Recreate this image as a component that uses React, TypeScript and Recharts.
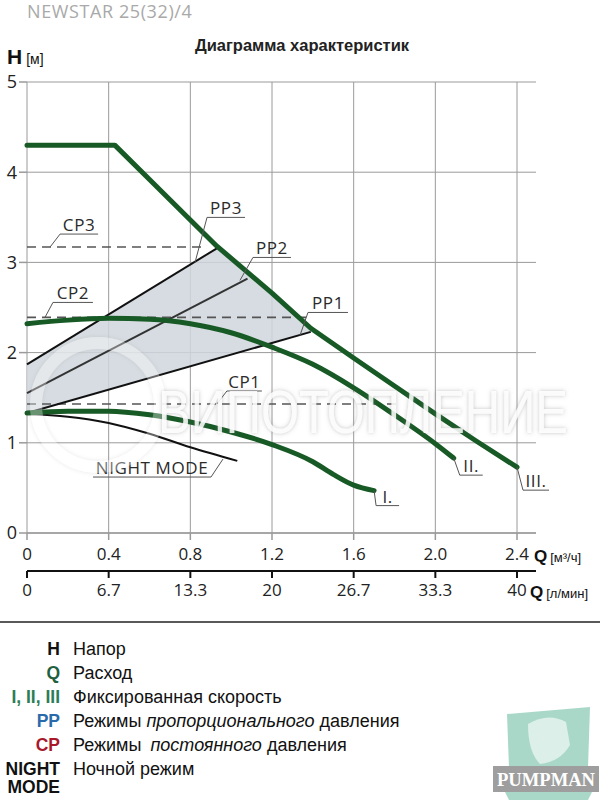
import React from 'react';
import { ComposedChart, Line, Area, Scatter, XAxis, YAxis, CartesianGrid } from 'recharts';

// ---------- data ----------
const qTicks = [0, 0.4, 0.8, 1.2, 1.6, 2.0, 2.4];
const qTickLabels = ['0', '0.4', '0.8', '1.2', '1.6', '2.0', '2.4'];
const lpmTickLabels = ['0', '6.7', '13.3', '20', '26.7', '33.3', '40'];
const hTicks = [0, 1, 2, 3, 4, 5];

// fixed speed curves [Q m3/h, H m]
const speedIII: [number, number][] = [
  [0, 4.3], [0.43, 4.3], [0.6, 3.92], [0.8, 3.47], [0.93, 3.18], [1.2, 2.66],
  [1.39, 2.27], [1.6, 1.94], [1.8, 1.63], [2.0, 1.32], [2.2, 1.02], [2.4, 0.73],
];
const speedII: [number, number][] = [
  [0, 2.32], [0.2, 2.36], [0.4, 2.38], [0.6, 2.37], [0.8, 2.32], [1.0, 2.22],
  [1.2, 2.06], [1.4, 1.87], [1.6, 1.61], [1.8, 1.31], [2.0, 0.99], [2.09, 0.83],
];
const speedI: [number, number][] = [
  [0, 1.33], [0.2, 1.35], [0.4, 1.35], [0.6, 1.31], [0.8, 1.23], [1.0, 1.12],
  [1.2, 0.98], [1.4, 0.79], [1.5, 0.65], [1.6, 0.53], [1.7, 0.47],
];
const nightMode: [number, number][] = [
  [0, 1.32], [0.2, 1.29], [0.4, 1.22], [0.6, 1.1], [0.8, 0.95], [1.03, 0.8],
];
// proportional pressure lines
const pp3: [number, number][] = [[0, 1.87], [0.94, 3.17]];
const pp2: [number, number][] = [[0, 1.55], [1.08, 2.82]];
const pp1: [number, number][] = [[0, 1.33], [1.39, 2.23]];
// constant pressure lines
const cp3: [number, number][] = [[0, 3.17], [0.87, 3.17]];
const cp2: [number, number][] = [[0, 2.39], [1.38, 2.39]];
const cp1: [number, number][] = [[0, 1.43], [1.83, 1.43]];
// shaded PP zone: [Q, low, high]
const ppZone: [number, number, number][] = [
  [0, 1.33, 1.87], [0.94, 1.94, 3.17], [1.0, 1.98, 3.05], [1.2, 2.1, 2.66], [1.39, 2.23, 2.26],
];
// callout anchors: [label, Q, H]
const callouts: [string, number, number][] = [
  ['PP3', 0.823, 3.0], ['PP2', 1.043, 2.8], ['PP1', 1.337, 2.19],
  ['CP3', 0.113, 3.17], ['CP2', 0.088, 2.39], ['CP1', 0.93, 1.43],
  ['NIGHT MODE', 0.96, 0.82], ['I.', 1.7, 0.47], ['II.', 2.09, 0.83], ['III.', 2.4, 0.73],
];
// legend
const legendKeys = ['H', 'Q', 'I, II, III', 'PP', 'CP', 'NIGHT'];
const legendTexts = ['Напор', 'Расход', 'Фиксированная скорость', 'PP', 'CP', 'Ночной режим'];

// ---------- layout / style ----------
const calloutLayout: Record<string, { dx: number; dy: number; ul: number }> = {
  PP3: { dx: 12, dy: -45, ul: 38 },
  PP2: { dx: 13, dy: -23, ul: 38 },
  PP1: { dx: 8, dy: -23, ul: 40 },
  CP3: { dx: 10, dy: -13, ul: 38 },
  CP2: { dx: 8, dy: -15, ul: 40 },
  CP1: { dx: 10, dy: -13, ul: 35 },
  'NIGHT MODE': { dx: -12, dy: 18, ul: -118 },
  'I.': { dx: 2, dy: 15, ul: 23 },
  'II.': { dx: 6, dy: 17, ul: 23 },
  'III.': { dx: 6, dy: 23, ul: 26 },
};
const legendColors = ['#111', '#1f6040', '#2b7d57', '#2a6aab', '#a8182a', '#111'];

const GREEN = '#185a26';
const NUMFONT = '"Open Sans", sans-serif';
const ARIAL = '"Liberation Sans", Arial, sans-serif';
const Q_MAX = 2.493;

const toPts = (arr: [number, number][]) => arr.map(([q, h]) => ({ q, h }));

const Callout = (props: any) => {
  const { cx, cy, payload } = props;
  if (cx == null || cy == null) return null;
  const lay = calloutLayout[payload.label];
  const ex = cx + lay.dx;
  const ey = cy + lay.dy;
  const ux = ex + lay.ul;
  const mid = (ex + ux) / 2;
  return (
    <g>
      <polyline points={`${cx},${cy} ${ex},${ey} ${ux},${ey}`} fill="none" stroke="#555" strokeWidth={1} />
      <text x={mid} y={ey - 3} textAnchor="middle" fontSize={17} fontFamily={NUMFONT}
        letterSpacing={0.6} fill="#2a2a2a">{payload.label}</text>
    </g>
  );
};

export default function App() {
  const zoneData = ppZone.map(([q, lo, hi]) => ({ q, range: [lo, hi] }));
  const calloutData = callouts.map(([label, q, h]) => ({ label, q, h }));
  const lineProps = { dataKey: 'h', dot: false, activeDot: false, isAnimationActive: false } as any;

  return (
    <div style={{ position: 'absolute', left: 0, top: 0, width: 600, height: 800, background: '#fff' }}>
      <ComposedChart width={600} height={800} margin={{ top: 82, right: 64, left: 0, bottom: 189 }}>
        <CartesianGrid stroke="#9a9a9a" strokeWidth={1} verticalValues={qTicks} horizontalValues={hTicks} />
        <XAxis xAxisId={0} type="number" dataKey="q" domain={[0, Q_MAX]} ticks={qTicks}
          allowDataOverflow={false}
          tickFormatter={(v: number) => qTickLabels[qTicks.indexOf(v)] ?? ''}
          height={38} tickSize={7} tickMargin={8} interval={0}
          axisLine={{ stroke: '#9a9a9a', strokeWidth: 1.5 }} tickLine={{ stroke: '#9a9a9a', strokeWidth: 1.5 }}
          tick={{ fontSize: 17, fill: '#222', fontFamily: NUMFONT }} />
        <XAxis xAxisId="lpm" type="number" dataKey="q" domain={[0, Q_MAX]} ticks={qTicks}
          tickFormatter={(v: number) => lpmTickLabels[qTicks.indexOf(v)] ?? ''}
          height={40} tickSize={7} tickMargin={6} interval={0}
          axisLine={{ stroke: '#111', strokeWidth: 2 }} tickLine={{ stroke: '#111', strokeWidth: 2 }}
          tick={{ fontSize: 17, fill: '#222', fontFamily: NUMFONT }} />
        <YAxis type="number" domain={[0, 5]} ticks={hTicks} width={27} tickSize={8} tickMargin={2}
          interval={0} axisLine={false} tickLine={{ stroke: '#9a9a9a', strokeWidth: 1.5 }}
          tick={{ fontSize: 18, fill: '#222', fontFamily: NUMFONT }} />

        <Area data={zoneData} dataKey="range" type="linear" fill="#cfd6dc" fillOpacity={0.85}
          stroke="none" isAnimationActive={false} activeDot={false} />

        <Line xAxisId="lpm" data={toPts(cp3)} {...lineProps} type="linear" stroke="#555" strokeWidth={1.6} strokeDasharray="9 6" />
        <Line xAxisId="lpm" data={toPts(cp2)} {...lineProps} type="linear" stroke="#555" strokeWidth={1.6} strokeDasharray="9 6" />
        <Line xAxisId="lpm" data={toPts(cp1)} {...lineProps} type="linear" stroke="#555" strokeWidth={1.6} strokeDasharray="9 6" />

        <Line data={toPts(pp3)} {...lineProps} type="linear" stroke="#111" strokeWidth={2} />
        <Line data={toPts(pp2)} {...lineProps} type="linear" stroke="#333" strokeWidth={2} />
        <Line data={toPts(pp1)} {...lineProps} type="linear" stroke="#111" strokeWidth={2} />

        <Line data={toPts(nightMode)} {...lineProps} type="monotone" stroke="#111" strokeWidth={2} />

        <Line data={toPts(speedI)} {...lineProps} type="monotone" stroke={GREEN} strokeWidth={5} strokeLinecap="round" />
        <Line data={toPts(speedII)} {...lineProps} type="monotone" stroke={GREEN} strokeWidth={5} strokeLinecap="round" />
        <Line data={toPts(speedIII)} {...lineProps} type="linear" stroke={GREEN} strokeWidth={5} strokeLinecap="round" strokeLinejoin="round" />

        <Scatter data={calloutData} dataKey="h" shape={(p: any) => <Callout {...p} />} isAnimationActive={false} />
      </ComposedChart>

      <svg width={600} height={800} style={{ position: 'absolute', left: 0, top: 0, pointerEvents: 'none' }}>
        <defs>
          <filter id="wmShadow" x="-10%" y="-30%" width="120%" height="160%">
            <feDropShadow dx="0" dy="0" stdDeviation="2.2" floodColor="#777" floodOpacity="0.5" />
          </filter>
        </defs>

        {/* watermark */}
        <circle cx={98} cy={405} r={62} fill="none" stroke="#fff" strokeWidth={12} opacity={0.35} filter="url(#wmShadow)" />
        <text x={158} y={433} fontSize={62} textLength={410} lengthAdjust="spacingAndGlyphs"
          fontFamily={ARIAL} fill="#fff" fillOpacity={0.85} filter="url(#wmShadow)">ВИПОТОПЛЕНИЕ</text>

        {/* header */}
        <text x={27} y={18} fontSize={18} fontFamily={NUMFONT} fill="#a9a9a9" letterSpacing={0.6}>NEWSTAR 25(32)/4</text>
        <text x={302} y={51} textAnchor="middle" fontSize={16.5} fontWeight="bold" fontFamily={ARIAL} fill="#222">
          Диаграмма характеристик
        </text>
        <text x={7} y={64} fontFamily={ARIAL} fill="#111">
          <tspan fontSize={21} fontWeight="bold">H</tspan>
          <tspan fontSize={14} dx={4}>[м]</tspan>
        </text>

        {/* axis units */}
        <text x={534} y={562} fontFamily={ARIAL} fill="#111">
          <tspan fontSize={17} fontWeight="bold">Q</tspan>
          <tspan fontSize={13} dx={3}>[м³/ч]</tspan>
        </text>
        <text x={530} y={598} fontFamily={ARIAL} fill="#111">
          <tspan fontSize={17} fontWeight="bold">Q</tspan>
          <tspan fontSize={13} dx={3}>[л/мин]</tspan>
        </text>

        {/* legend */}
        <line x1={0} y1={622} x2={600} y2={622} stroke="#222" strokeWidth={1.5} />
        {legendKeys.map((k, i) => (
          <text key={k} x={60} y={655 + i * 24} textAnchor="end" fontSize={17.5} fontWeight="bold"
            fontFamily={ARIAL} fill={legendColors[i]}>{k}</text>
        ))}
        <text x={60} y={793} textAnchor="end" fontSize={17.5} fontWeight="bold" fontFamily={ARIAL} fill="#111">MODE</text>
        {legendTexts.map((t, i) => {
          const y = 655 + i * 24;
          if (t === 'PP') {
            return (
              <text key={t} x={73} y={y} fontSize={18} fontFamily={ARIAL} fill="#111">
                Режимы <tspan fontStyle="italic">пропорционального</tspan> давления
              </text>
            );
          }
          if (t === 'CP') {
            return (
              <text key={t} x={73} y={y} fontSize={18} fontFamily={ARIAL} fill="#111">
                Режимы  <tspan fontStyle="italic" dx={4}>постоянного</tspan> давления
              </text>
            );
          }
          return <text key={t} x={73} y={y} fontSize={18} fontFamily={ARIAL} fill="#111">{t}</text>;
        })}

        {/* logo */}
        <polygon points="507,714 590,707 588,768 509,768" fill="#a9d8c9" />
        <path d="M528,724 Q548,712 566,722 L570,745 Q560,762 540,764 Q528,752 528,724 Z" fill="#e9f5f0" opacity={0.8} />
        <rect x={493} y={766} width={106} height={26} fill="#9e9e9e" />
        <polygon points="505,792 592,792 588,800 509,800" fill="#a9d8c9" />
        <text x={546} y={786} textAnchor="middle" fontSize={19} fontWeight="bold" fontFamily='"Liberation Serif", serif'
          fill="#fff" textLength={98} lengthAdjust="spacingAndGlyphs">PUMPMAN</text>
      </svg>
    </div>
  );
}
